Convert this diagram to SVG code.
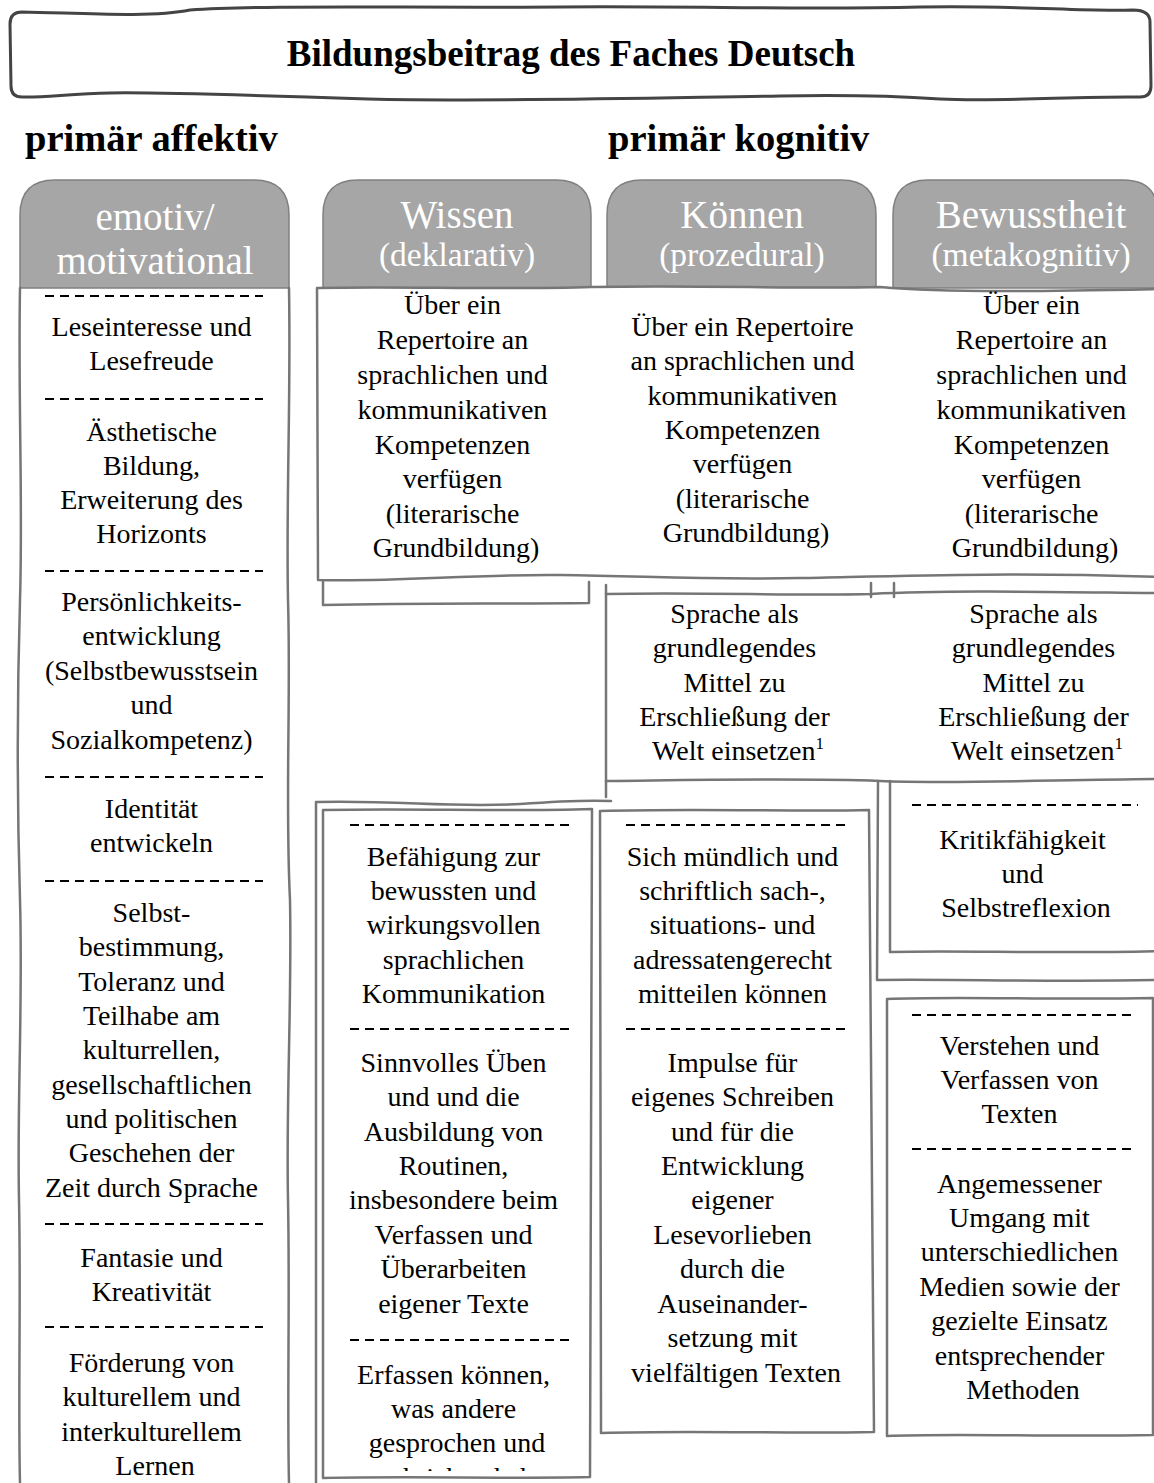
<svg xmlns="http://www.w3.org/2000/svg" width="1154" height="1483" viewBox="0 0 1154 1483">
<style>
.t{font-family:"Liberation Serif","Times New Roman",serif;font-size:28px;fill:#000;text-anchor:middle}
.h1{font-family:"Liberation Serif","Times New Roman",serif;font-size:39px;fill:#fff;text-anchor:middle}
.h2{font-family:"Liberation Serif","Times New Roman",serif;font-size:33.5px;fill:#fff;text-anchor:middle}
.b{font-family:"Liberation Serif","Times New Roman",serif;font-weight:bold;fill:#000}
.tab{fill:#a6a6a6;stroke:#808080;stroke-width:1.5}
.ln{fill:none;stroke:#767676;stroke-width:2.5;stroke-linejoin:round;stroke-linecap:round}
.lf{fill:#fff;stroke:#767676;stroke-width:2.5;stroke-linejoin:round}
.dash{stroke:#000;stroke-width:2.2;stroke-dasharray:9 6;fill:none}
.sup{font-size:17px}
</style>
<defs>
<clipPath id="clipW"><rect x="323" y="790" width="268" height="681"/></clipPath>
</defs>
<rect width="1154" height="1483" fill="#fff"/>

<g id="title">
<path d="M22,12 C80,13 150,18 190,10 C260,5 400,8 560,7 C700,6 800,10 920,7 C1020,5 1080,12 1133,10 Q1150,10 1150,22 L1151,86 Q1151,97 1140,97 C1080,96 1000,102 940,99 C880,95 830,95 780,96 C650,98 500,102 368,99 C250,95 160,92 110,93 C70,94 40,98 22,97 Q11,97 11,86 L10,24 Q10,12 22,12 Z" fill="none" stroke="#444" stroke-width="3"/>
<text class="b" x="571" y="66" font-size="37" text-anchor="middle">Bildungsbeitrag des Faches Deutsch</text>
</g>

<g id="labels">
<text class="b" x="25" y="151" font-size="38.5">primär affektiv</text>
<text class="b" x="608" y="151" font-size="38.5">primär kognitiv</text>
</g>

<g id="col-emotiv">
<path class="tab" d="M20,288 L20,215 Q20,180 55,180 L254,180 Q289,180 289,215 L289,288 Z"/>
<text class="h1" x="155" y="230">emotiv/</text>
<text class="h1" x="155" y="274">motivational</text>
<path class="ln" d="M20,288 C18,400 23,500 20,600 C17,700 17,800 20,900 C23,1000 17,1100 19,1200 C21,1300 18,1400 20,1483"/>
<path class="ln" d="M289,288 C291,400 286,500 288,600 C291,700 285,800 290,900 C292,1000 286,1100 288,1200 C290,1300 287,1400 289,1483"/>
<line class="dash" x1="45" y1="296" x2="263" y2="296"/>
<line class="dash" x1="45" y1="399" x2="263" y2="399"/>
<line class="dash" x1="45" y1="571" x2="263" y2="571"/>
<line class="dash" x1="45" y1="777" x2="263" y2="777"/>
<line class="dash" x1="45" y1="881" x2="263" y2="881"/>
<line class="dash" x1="45" y1="1224" x2="263" y2="1224"/>
<line class="dash" x1="45" y1="1327" x2="263" y2="1327"/>
<text class="t">
<tspan x="155" y="336">Leseinteresse und</tspan>
<tspan x="155" y="370">Lesefreude</tspan>
<tspan x="155" y="441">Ästhetische</tspan>
<tspan x="155" y="475">Bildung,</tspan>
<tspan x="155" y="509">Erweiterung des</tspan>
<tspan x="155" y="543">Horizonts</tspan>
<tspan x="155" y="611">Persönlichkeits-</tspan>
<tspan x="155" y="645">entwicklung</tspan>
<tspan x="155" y="680">(Selbstbewusstsein</tspan>
<tspan x="155" y="714">und</tspan>
<tspan x="155" y="749">Sozialkompetenz)</tspan>
<tspan x="155" y="818">Identität</tspan>
<tspan x="155" y="852">entwickeln</tspan>
<tspan x="155" y="922">Selbst-</tspan>
<tspan x="155" y="956">bestimmung,</tspan>
<tspan x="155" y="991">Toleranz und</tspan>
<tspan x="155" y="1025">Teilhabe am</tspan>
<tspan x="155" y="1059">kulturrellen,</tspan>
<tspan x="155" y="1094">gesellschaftlichen</tspan>
<tspan x="155" y="1128">und politischen</tspan>
<tspan x="155" y="1162">Geschehen der</tspan>
<tspan x="155" y="1197">Zeit durch Sprache</tspan>
<tspan x="155" y="1267">Fantasie und</tspan>
<tspan x="155" y="1301">Kreativität</tspan>
<tspan x="155" y="1372">Förderung von</tspan>
<tspan x="155" y="1406">kulturellem und</tspan>
<tspan x="155" y="1441">interkulturellem</tspan>
<tspan x="155" y="1475">Lernen</tspan>
</text>
</g>

<g id="tabs-kognitiv">
<g id="tab-wissen">
<path class="tab" d="M323,288 L323,215 Q323,180 358,180 L556,180 Q591,180 591,215 L591,288 Z"/>
<text class="h1" x="457" y="228">Wissen</text>
<text class="h2" x="457" y="266">(deklarativ)</text>
</g>
<g id="tab-koennen">
<path class="tab" d="M607,288 L607,215 Q607,180 642,180 L841,180 Q876,180 876,215 L876,288 Z"/>
<text class="h1" x="742" y="228">Können</text>
<text class="h2" x="742" y="266">(prozedural)</text>
</g>
<g id="tab-bewusstheit">
<path class="tab" d="M893,288 L893,215 Q893,180 928,180 L1123,180 Q1158,180 1158,215 L1158,288 Z"/>
<text class="h1" x="1031" y="228">Bewusstheit</text>
<text class="h2" x="1031" y="266">(metakognitiv)</text>
</g>
</g>

<g id="box-repertoire">
<path class="ln" d="M323,580 L323,605 C420,603 500,604 589,603 L589,582"/>
<path class="lf" d="M317,288 C400,286 500,290 592,287 C700,285 800,289 880,287 C950,293 1050,291 1160,289 L1160,577 C1000,572 900,576 800,578 C700,580 650,576 560,575 C470,574 400,582 318,580 Z"/>
<text class="t">
<tspan x="456" y="314">Über ein</tspan>
<tspan x="456" y="349">Repertoire an</tspan>
<tspan x="456" y="384">sprachlichen und</tspan>
<tspan x="456" y="419">kommunikativen</tspan>
<tspan x="456" y="454">Kompetenzen</tspan>
<tspan x="456" y="488">verfügen</tspan>
<tspan x="456" y="523">(literarische</tspan>
<tspan x="456" y="557">Grundbildung)</tspan>
</text>
<text class="t">
<tspan x="746" y="336">Über ein Repertoire</tspan>
<tspan x="746" y="370">an sprachlichen und</tspan>
<tspan x="746" y="405">kommunikativen</tspan>
<tspan x="746" y="439">Kompetenzen</tspan>
<tspan x="746" y="473">verfügen</tspan>
<tspan x="746" y="508">(literarische</tspan>
<tspan x="746" y="542">Grundbildung)</tspan>
</text>
<text class="t">
<tspan x="1035" y="314">Über ein</tspan>
<tspan x="1035" y="349">Repertoire an</tspan>
<tspan x="1035" y="384">sprachlichen und</tspan>
<tspan x="1035" y="419">kommunikativen</tspan>
<tspan x="1035" y="454">Kompetenzen</tspan>
<tspan x="1035" y="488">verfügen</tspan>
<tspan x="1035" y="523">(literarische</tspan>
<tspan x="1035" y="557">Grundbildung)</tspan>
</text>
</g>

<g id="box-sprache">
<path class="ln" d="M606,585 L606,797"/>
<path class="ln" d="M606,594 C700,592 800,596 871,594 C950,590 1050,592 1160,593"/>
<path class="ln" d="M871,583 L871,597 M894,583 L894,597"/>
<path class="ln" d="M606,781 C700,780 800,778 880,781 C950,784 1050,780 1160,779"/>
<text class="t">
<tspan x="738" y="623">Sprache als</tspan>
<tspan x="738" y="657">grundlegendes</tspan>
<tspan x="738" y="692">Mittel zu</tspan>
<tspan x="738" y="726">Erschließung der</tspan>
<tspan x="738" y="760">Welt einsetzen<tspan class="sup" dy="-11">1</tspan></tspan>
</text>
<text class="t">
<tspan x="1037" y="623">Sprache als</tspan>
<tspan x="1037" y="657">grundlegendes</tspan>
<tspan x="1037" y="692">Mittel zu</tspan>
<tspan x="1037" y="726">Erschließung der</tspan>
<tspan x="1037" y="760">Welt einsetzen<tspan class="sup" dy="-11">1</tspan></tspan>
</text>
</g>

<g id="box-wissen-unten">
<path class="ln" stroke-width="3" d="M316,1483 L316,802 C400,800 450,808 520,804 C560,801 590,800 611,801"/>
<path class="ln" d="M323,810 C420,808 500,812 592,809 L590,1477 C500,1479 420,1476 323,1478 Z"/>
<line class="dash" x1="350" y1="825" x2="570" y2="825"/>
<line class="dash" x1="350" y1="1029" x2="570" y2="1029"/>
<line class="dash" x1="350" y1="1340" x2="570" y2="1340"/>
<text class="t">
<tspan x="457" y="866">Befähigung zur</tspan>
<tspan x="457" y="900">bewussten und</tspan>
<tspan x="457" y="934">wirkungsvollen</tspan>
<tspan x="457" y="969">sprachlichen</tspan>
<tspan x="457" y="1003">Kommunikation</tspan>
<tspan x="457" y="1072">Sinnvolles Üben</tspan>
<tspan x="457" y="1106">und und die</tspan>
<tspan x="457" y="1141">Ausbildung von</tspan>
<tspan x="457" y="1175">Routinen,</tspan>
<tspan x="457" y="1209">insbesondere beim</tspan>
<tspan x="457" y="1244">Verfassen und</tspan>
<tspan x="457" y="1278">Überarbeiten</tspan>
<tspan x="457" y="1313">eigener Texte</tspan>
<tspan x="457" y="1384">Erfassen können,</tspan>
<tspan x="457" y="1418">was andere</tspan>
<tspan x="457" y="1452">gesprochen und</tspan>
</text>
<text class="t" clip-path="url(#clipW)" x="457" y="1487">geschrieben haben</text>
</g>

<g id="box-koennen-unten">
<path class="ln" d="M600,811 C700,808 800,812 869,810 L874,1432 C780,1434 700,1430 601,1433 Z"/>
<line class="dash" x1="626" y1="825" x2="849" y2="825"/>
<line class="dash" x1="626" y1="1029" x2="849" y2="1029"/>
<text class="t">
<tspan x="736" y="866">Sich mündlich und</tspan>
<tspan x="736" y="900">schriftlich sach-,</tspan>
<tspan x="736" y="934">situations- und</tspan>
<tspan x="736" y="969">adressatengerecht</tspan>
<tspan x="736" y="1003">mitteilen können</tspan>
<tspan x="736" y="1072">Impulse für</tspan>
<tspan x="736" y="1106">eigenes Schreiben</tspan>
<tspan x="736" y="1141">und für die</tspan>
<tspan x="736" y="1175">Entwicklung</tspan>
<tspan x="736" y="1209">eigener</tspan>
<tspan x="736" y="1244">Lesevorlieben</tspan>
<tspan x="736" y="1278">durch die</tspan>
<tspan x="736" y="1313">Auseinander-</tspan>
<tspan x="736" y="1347">setzung mit</tspan>
<tspan x="736" y="1382">vielfältigen Texten</tspan>
</text>
</g>

<g id="box-kritik">
<path class="ln" d="M878,781 L877,980 C950,979 1050,982 1160,980"/>
<path class="ln" d="M890,781 L890,952 C960,950 1050,954 1160,951"/>
<line class="dash" x1="912" y1="805" x2="1138" y2="805"/>
<text class="t">
<tspan x="1026" y="849">Kritikfähigkeit</tspan>
<tspan x="1026" y="883">und</tspan>
<tspan x="1026" y="917">Selbstreflexion</tspan>
</text>
</g>

<g id="box-verstehen">
<path class="ln" d="M887,999 C950,996 1050,1000 1153,998 L1153,1435 C1050,1437 950,1433 887,1436 Z"/>
<line class="dash" x1="912" y1="1015" x2="1136" y2="1015"/>
<line class="dash" x1="912" y1="1149" x2="1136" y2="1149"/>
<text class="t">
<tspan x="1023" y="1055">Verstehen und</tspan>
<tspan x="1023" y="1089">Verfassen von</tspan>
<tspan x="1023" y="1123">Texten</tspan>
<tspan x="1023" y="1193">Angemessener</tspan>
<tspan x="1023" y="1227">Umgang mit</tspan>
<tspan x="1023" y="1261">unterschiedlichen</tspan>
<tspan x="1023" y="1296">Medien sowie der</tspan>
<tspan x="1023" y="1330">gezielte Einsatz</tspan>
<tspan x="1023" y="1365">entsprechender</tspan>
<tspan x="1023" y="1399">Methoden</tspan>
</text>
</g>

<g id="connectors"/>
</svg>
